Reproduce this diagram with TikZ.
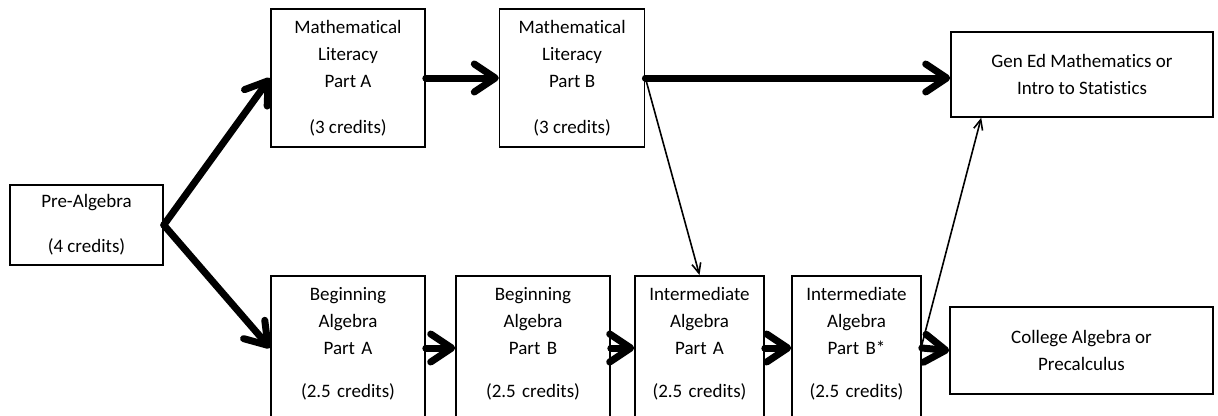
\documentclass[tikz,border=0pt]{standalone}
\usepackage{fontspec}
\setmainfont{Carlito}[Ligatures=NoCommon]
\usetikzlibrary{positioning,arrows.meta}

\begin{document}
\begin{tikzpicture}[x=1pt,y=-1pt,
  box/.style={draw,line width=1.6pt,align=center,inner sep=4pt,font=\fontsize{19}{27}\selectfont},
  tallbox/.style={box,text width=#1,text height=21pt,text depth=150pt,anchor=north},
  fatarrow/.style={line width=7pt,line cap=round,-{Straight Barb[length=21pt,width=28pt,round]}},
  slimarrow/.style={line width=1.6pt,-{Straight Barb[length=10pt,width=9pt]}}]
\useasboundingbox (0,0) rectangle (1218,415);
\node[box,minimum width=153pt,minimum height=80pt] (pre) at (86.5,225) {Pre-Algebra\\[18pt](4 credits)};
\node[box,minimum width=154pt,minimum height=138pt] (litA) at (348,78) {Mathematical\\Literacy\\Part A\\[19pt](3 credits)};
\node[box,minimum width=145pt,minimum height=138pt,right=73pt of litA] (litB) {Mathematical\\Literacy\\Part B\\[19pt](3 credits)};
\node[box,minimum width=262pt,minimum height=85pt] (gened) at (1082,74.5) {Gen Ed Mathematics or\\Intro to Statistics};
\node[tallbox=146pt] (begA) at (348,275) {Beginning\\Algebra\\Part A\\[16pt](2.5 credits)};
\node[tallbox=146pt] (begB) at (533,275) {Beginning\\Algebra\\Part B\\[16pt](2.5 credits)};
\node[tallbox=121pt] (intA) at (699.5,275) {Intermediate\\Algebra\\Part A\\[16pt](2.5 credits)};
\node[tallbox=121pt] (intB) at (856.5,275) {Intermediate\\Algebra\\Part B*\\[16pt](2.5 credits)};
\node[box,minimum width=263pt,minimum height=87pt] (college) at (1081.5,350.5) {College Algebra or\\Precalculus};
% thick paths
\draw[fatarrow] (pre.east) -- (litA.west);
\draw[fatarrow] (pre.east) -- ([yshift=-73pt]begA.north west);
\draw[fatarrow] (litA) -- (litB);
\draw[fatarrow] (litB.east) -- (litB.east -| gened.west);
\foreach \a/\b in {begA/begB,begB/intA,intA/intB}
  \draw[fatarrow] ([yshift=-73pt]\a.north east) -- ([yshift=-73pt]\b.north west);
\draw[fatarrow] ([yshift=-73pt]intB.north east) -- (college.west);
% thin paths
\draw[slimarrow] (litB.east) -- (intA.north);
\draw[slimarrow] ([yshift=-70pt]intB.north east) -- ([xshift=31pt]gened.south west);
\end{tikzpicture}
\end{document}
